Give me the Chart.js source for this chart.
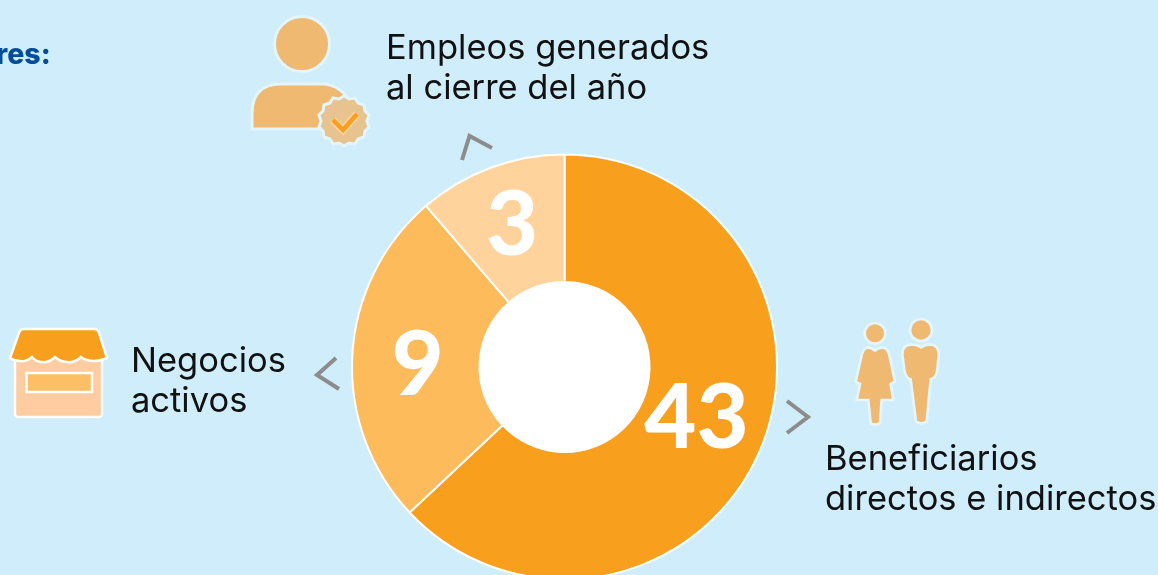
<!DOCTYPE html>
<html lang="es"><head><meta charset="utf-8">
<style>
html,body{margin:0;padding:0;width:1158px;height:575px;overflow:hidden;background:#D0EDFB}
#wrap{position:absolute;left:0;top:0;width:1158px;height:582px}
.t{position:absolute;font-family:Inter,sans-serif;font-size:34.5px;line-height:40px;color:#111;white-space:nowrap;font-variant-ligatures:none}
svg{position:absolute;left:0;top:0}
</style></head><body>
<div id="wrap"><canvas id="c" width="1158" height="582"></canvas></div>
<svg width="1158" height="575" viewBox="0 0 1158 575">
 <g fill="none" stroke="#8C8C8C" stroke-width="4">
  <polyline points="462,160 469.500,136 492,148"/>
  <polyline points="339,389 317,375 336,358"/>
  <polyline points="787,401 808,417 787,433"/>
 </g>
 <g stroke="#E3F5FD" stroke-width="3" fill="#EFB972">
  <circle cx="302" cy="44" r="27.500"/>
  <path d="M252 129V113C252 95 262 84 280 84H322C335 84 345 92 350 102L330 129Z"/>
  <path id="badge" fill="#E6C38F" d="M345 97l5 3 6-1 3 5 6 2 1 6 4 4-2 6 2 6-4 4-1 6-6 2-3 5-6-1-5 3-5-3-6 1-3-5-6-2-1-6-4-4 2-6-2-6 4-4 1-6 6-2 3-5 6 1z" transform="translate(-1 -1)"/>
 </g>
 <polyline points="333,120 343,130 357,114" fill="none" stroke="#FFD39B" stroke-width="8"/>
 <polyline points="333,120 343,130 357,114" fill="none" stroke="#F99F1E" stroke-width="4.500"/>
 <g stroke="#fff" stroke-width="2.500">
  <rect x="15" y="350" width="87" height="67" rx="3" fill="#FFCBA0"/>
  <rect x="26.500" y="373" width="65.500" height="19" fill="#FDBF66"/>
  <path fill="#F99F1E" d="M24 329H94Q98 329 99 333L107 358Q100 361 94 361Q86 361 81 357Q75 363 67 362Q60 362 55 357Q49 363 42 362Q36 362 32 357Q26 362 20 361Q14 361 10 358L19 333Q20 329 24 329Z"/>
 </g>
 <g transform="translate(780 310) scale(.33333)" fill="#EFB972" stroke="#E5F6FD" stroke-width="8">
  <circle cx="285" cy="70" r="31"/>
  <circle cx="423" cy="60" r="33"/>
  <path d="M262 112Q275 112 285 122Q295 112 310 112Q322 115 328 135L345 215L332 222L340 270H305L300 340Q285 348 272 340L265 270H230L240 222L227 215L245 135Q250 115 262 112Z"/>
  <path d="M395 103Q412 103 423 112Q435 103 450 103Q478 105 476 135L472 180Q468 205 452 208L440 335Q425 345 408 335L392 208Q378 205 373 180L367 135Q365 105 395 103Z"/>
 </g>
</svg>
<div class="t" style="left:-4px;top:34px;font-size:28.500px;line-height:40px;font-weight:800;color:#004E9A">res:</div>
<div class="t" style="left:386px;top:27px">Empleos generados<br>al cierre del año</div>
<div class="t" style="left:131px;top:340px">Negocios<br>activos</div>
<div class="t" style="left:825px;top:438px">Beneficiarios<br>directos e indirectos</div>
<script src="https://cdn.jsdelivr.net/npm/chart.js@4/dist/chart.umd.min.js"></script>
<script>
const categories = ["Beneficiarios directos e indirectos", "Negocios activos", "Empleos generados al cierre del año"];
const printedValues = [43, 9, 3];
const arcShares = [63, 25.7, 11.3];
const sliceColors = ["#F99F1E", "#FDBB5C", "#FFD39B"];
const labelOffsets = [[132, 52], [-147, -1], [-52.5, -141.5]];

const valueLabels = {
  id: "valueLabels",
  afterDatasetsDraw(chart) {
    const ctx = chart.ctx, arcs = chart.getDatasetMeta(0).data;
    ctx.save();
    ctx.fillStyle = "#fff";
    ctx.font = "900 90px Lato, sans-serif";
    ctx.textAlign = "center";
    ctx.textBaseline = "middle";
    arcs.forEach((a, i) => {
      ctx.fillText(String(printedValues[i]), a.x + labelOffsets[i][0], a.y + labelOffsets[i][1]);
    });
    ctx.restore();
  }
};
new Chart(document.getElementById("c"), {
  type: "doughnut",
  data: { labels: categories, datasets: [{ data: arcShares, backgroundColor: sliceColors, borderColor: "#fff", borderWidth: 2, hoverOffset: 0 }] },
  options: {
    responsive: false, animation: false, cutout: "40%", rotation: 0,
    layout: { padding: { left: 351, right: 380, top: 153, bottom: 1 } },
    plugins: { legend: { display: false }, tooltip: { enabled: false } }
  },
  plugins: [{
    id: "whiteHole",
    beforeDatasetsDraw(chart) {
      const a = chart.getDatasetMeta(0).data[0], ctx = chart.ctx;
      ctx.save(); ctx.fillStyle = "#fff"; ctx.beginPath();
      ctx.arc(a.x, a.y, a.innerRadius, 0, Math.PI * 2); ctx.fill(); ctx.restore();
    }
  }, valueLabels]
});
</script>
</div></body></html>
